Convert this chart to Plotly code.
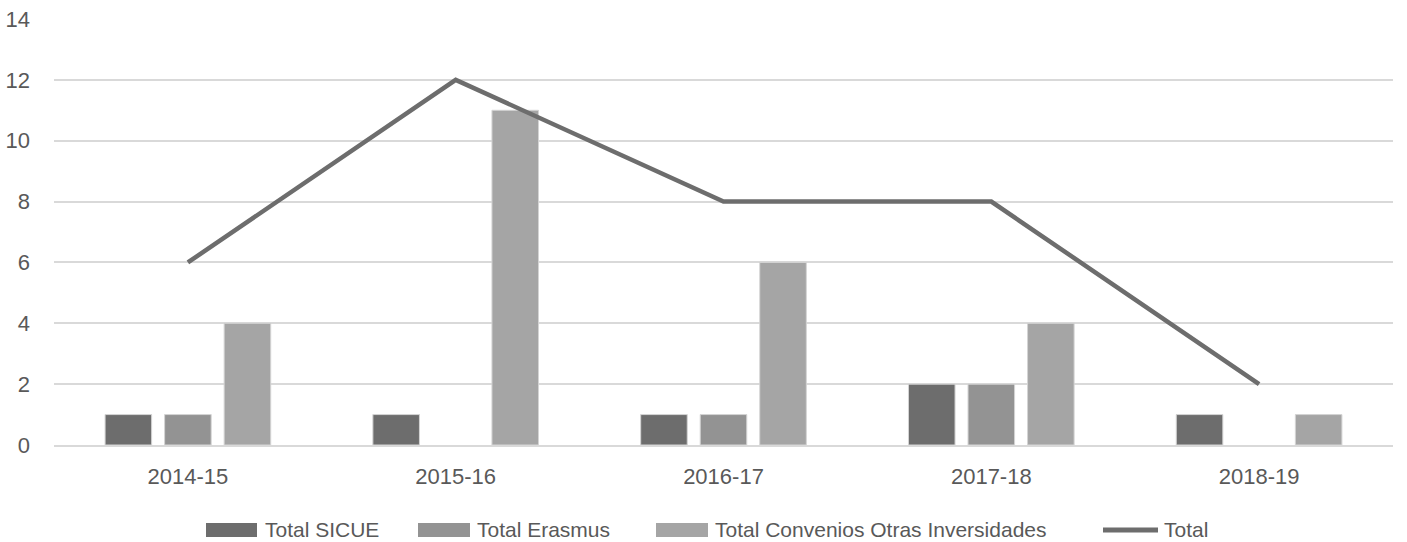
import plotly.graph_objects as go

years = ["2014-15", "2015-16", "2016-17", "2017-18", "2018-19"]
sicue = [1, 1, 1, 2, 1]
erasmus = [1, 0, 1, 2, 0]
convenios = [4, 11, 6, 4, 1]
total = [6, 12, 8, 8, 2]

names = ["Total SICUE", "Total Erasmus", "Total Convenios Otras Inversidades", "Total"]
colors = ["#6d6d6d", "#939393", "#a5a5a5", "#6d6d6d"]

W, H = 1407, 542
L, R, T, B = 54, 14, 19, 97
PW, PH = W - L - R, H - T - B

fig = go.Figure()
for vals, nm, c in zip([sicue, erasmus, convenios], names[:3], colors[:3]):
    fig.add_trace(go.Bar(x=years, y=vals, name=nm,
                         marker=dict(color=c,
                                     line=dict(color="#d4d4d4",
                                               width=[1 if v else 0 for v in vals]))))
fig.add_trace(go.Scatter(x=years, y=total, name=names[3], mode="lines",
                         line=dict(color=colors[3], width=4.5)))

def px(x):
    return (x - L) / PW

def py(y):
    return (H - B - y) / PH

# custom legend (wide swatches as in the reference)
legend_items = [
    (206, 257, 263, "rect"),
    (418, 470, 475, "rect"),
    (656, 708, 713, "rect"),
    (1103, 1158, 1162, "line"),
]
ly = 529
for (x0, x1, tx, kind), nm, c in zip(legend_items, names, colors):
    if kind == "rect":
        fig.add_shape(type="rect", xref="paper", yref="paper",
                      x0=px(x0), x1=px(x1), y0=py(ly + 8), y1=py(ly - 6),
                      fillcolor=c, line=dict(width=0))
    else:
        fig.add_shape(type="line", xref="paper", yref="paper",
                      x0=px(x0), x1=px(x1), y0=py(ly + 1), y1=py(ly + 1),
                      line=dict(color=c, width=5))
    fig.add_annotation(text=nm, xref="paper", yref="paper", x=px(tx), y=py(ly),
                       xanchor="left", yanchor="middle", showarrow=False,
                       font=dict(family="Liberation Sans, Arial", size=21, color="#595959"))

fig.update_layout(
    width=W, height=H,
    margin=dict(l=L, r=R, t=T, b=B),
    paper_bgcolor="white", plot_bgcolor="white",
    barmode="group", bargap=0.333, bargroupgap=0.218,
    font=dict(family="Liberation Sans, Arial", size=22, color="#595959"),
    showlegend=False,
    yaxis=dict(range=[0, 14], dtick=2, showgrid=True, gridcolor="#d9d9d9", gridwidth=1.5,
               zeroline=False, showline=False, ticks="", ticklabelstandoff=23, automargin=False),
    xaxis=dict(showgrid=False, showline=True, linecolor="#d9d9d9", linewidth=1.5, ticks="",
               ticklabelstandoff=11, automargin=False),
)
fig.write_html("out.html", config={"displayModeBar": False},
               post_script="document.body.style.margin='0px';document.body.style.overflow='hidden';")
